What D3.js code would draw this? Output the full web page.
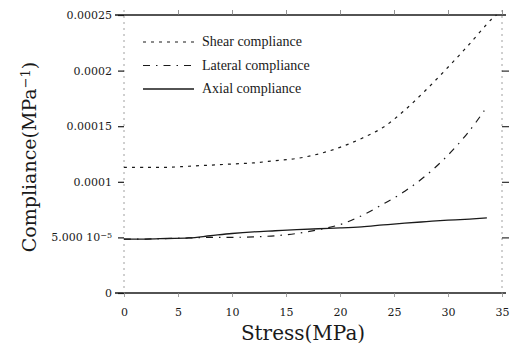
<!DOCTYPE html>
<html>
<head>
<meta charset="utf-8">
<script src="https://cdn.jsdelivr.net/npm/d3@7"></script>
<style>
  body { margin: 0; background: #fff; }
  svg { display: block; }
</style>
</head>
<body>
<div id="app"></div>
<script>
// stress (MPa) vs compliance (1/MPa)
const shearX = [0, 2, 4, 6, 8, 10, 12, 14, 16, 18, 20, 22, 24, 26, 28, 30, 32, 34, 34.5];
const shearY = [1.13e-4, 1.13e-4, 1.13e-4, 1.14e-4, 1.15e-4, 1.16e-4, 1.17e-4, 1.19e-4, 1.21e-4, 1.25e-4,
                1.31e-4, 1.39e-4, 1.49e-4, 1.645e-4, 1.83e-4, 2.03e-4, 2.24e-4, 2.46e-4, 2.5e-4];

const lateralX = [0, 2, 4, 6, 8, 10, 12, 14, 16, 18, 20, 22, 24, 26, 28, 30, 32, 33.5];
const lateralY = [4.85e-5, 4.85e-5, 4.9e-5, 4.95e-5, 5.0e-5, 5.0e-5, 5.05e-5, 5.15e-5, 5.35e-5, 5.7e-5,
                  6.15e-5, 6.95e-5, 8.0e-5, 9.15e-5, 1.06e-4, 1.24e-4, 1.46e-4, 1.66e-4];

const axialX = [0, 2, 4, 6, 8, 10, 12, 14, 16, 18, 20, 22, 24, 26, 28, 30, 32, 33.6];
const axialY = [4.85e-5, 4.85e-5, 4.9e-5, 4.95e-5, 5.15e-5, 5.35e-5, 5.5e-5, 5.6e-5, 5.7e-5, 5.78e-5,
                5.85e-5, 5.95e-5, 6.12e-5, 6.28e-5, 6.42e-5, 6.55e-5, 6.65e-5, 6.75e-5];

const xTicks = [0, 5, 10, 15, 20, 25, 30, 35];
const yTicks = [0, 5e-5, 1e-4, 1.5e-4, 2e-4, 2.5e-4];
const yTickLabels = ['0', '5.000 10', '0.0001', '0.00015', '0.0002', '0.00025'];

const seriesNames = ['Shear compliance', 'Lateral compliance', 'Axial compliance'];

const width = 513;
const height = 359;
const ink = '#1a1a1a';
const serif = '"DejaVu Serif", serif';

const svg = d3.select('#app').append('svg')
    .attr('width', width)
    .attr('height', height)
    .style('background', '#fff');

const x = d3.scaleLinear().domain([0, 35]).range([124, 502]);
const y = d3.scaleLinear().domain([0, 2.5e-4]).range([293, 15]);

// frame: solid top and bottom rules, dotted sides
svg.append('line')
    .attr('x1', 115).attr('x2', 506)
    .attr('y1', y(2.5e-4)).attr('y2', y(2.5e-4))
    .attr('stroke', ink).attr('stroke-width', 1.3);
svg.append('line')
    .attr('x1', 115).attr('x2', 506)
    .attr('y1', y(0)).attr('y2', y(0))
    .attr('stroke', ink).attr('stroke-width', 1.3);
[0, 35].forEach(v => {
    svg.append('line')
        .attr('x1', x(v)).attr('x2', x(v))
        .attr('y1', 10).attr('y2', 298)
        .attr('stroke', '#888').attr('stroke-width', 0.8)
        .attr('stroke-dasharray', '2,4');
});

// left axis with labels
const yAxis = svg.append('g')
    .attr('transform', `translate(${x(0)},0)`)
    .call(d3.axisLeft(y).tickValues(yTicks).tickSize(6).tickPadding(6)
        .tickFormat((d, i) => yTickLabels[i]));
yAxis.select('.domain').remove();
yAxis.selectAll('.tick line').attr('stroke', ink).attr('stroke-width', 1.2);
yAxis.selectAll('.tick text')
    .attr('fill', ink)
    .style('font-family', serif)
    .style('font-size', '11px');
// superscript on the 5e-5 label
yAxis.selectAll('.tick text')
    .filter((d, i) => i === 1)
    .append('tspan')
    .attr('dy', '-0.45em')
    .style('font-size', '8px')
    .text('\u22125');

// right axis, ticks only
const yRight = svg.append('g')
    .attr('transform', `translate(${x(35)},0)`)
    .call(d3.axisRight(y).tickValues(yTicks.slice(1, 5)).tickSize(7).tickFormat(''));
yRight.select('.domain').remove();
yRight.selectAll('.tick line').attr('stroke', ink).attr('stroke-width', 1.1);

// top ticks
const xTop = svg.append('g')
    .attr('transform', `translate(0,${y(2.5e-4)})`)
    .call(d3.axisTop(x).tickValues(xTicks.slice(1)).tickSize(5).tickFormat(''));
xTop.select('.domain').remove();
xTop.selectAll('.tick line').attr('stroke', '#777').attr('stroke-width', 0.8);

// bottom axis with labels
const xAxis = svg.append('g')
    .attr('transform', `translate(0,${y(0)})`)
    .call(d3.axisBottom(x).tickValues(xTicks).tickSize(4).tickPadding(11));
xAxis.select('.domain').remove();
xAxis.selectAll('.tick line').attr('stroke', '#888').attr('stroke-width', 0.8);
xAxis.selectAll('.tick text')
    .attr('fill', ink)
    .style('font-family', serif)
    .style('font-size', '11px');

// axis titles
svg.append('text')
    .attr('x', 303)
    .attr('y', 340)
    .attr('text-anchor', 'middle')
    .attr('fill', ink)
    .style('font-family', serif)
    .style('font-size', '20px')
    .text('Stress(MPa)');

const yTitle = svg.append('text')
    .attr('transform', 'translate(36,157) rotate(-90)')
    .attr('text-anchor', 'middle')
    .attr('fill', ink)
    .style('font-family', serif)
    .style('font-size', '19px');
yTitle.append('tspan').text('Compliance(MPa');
yTitle.append('tspan').attr('dy', '-0.45em').style('font-size', '13px').text('\u22121');
yTitle.append('tspan').attr('dy', '0.3em').text(')');

// curves
const line = d3.line()
    .x(d => x(d[0]))
    .y(d => y(d[1]))
    .curve(d3.curveCatmullRom.alpha(0.5));

const series = [
    { name: seriesNames[0], pts: d3.zip(shearX, shearY), dash: '3,5', w: 1.2 },
    { name: seriesNames[1], pts: d3.zip(lateralX, lateralY), dash: '7,6,1.5,6', w: 1.2 },
    { name: seriesNames[2], pts: d3.zip(axialX, axialY), dash: null, w: 1.3 }
];

svg.append('g')
    .selectAll('path')
    .data(series)
    .join('path')
    .attr('d', d => line(d.pts))
    .attr('fill', 'none')
    .attr('stroke', ink)
    .attr('stroke-width', d => d.w)
    .attr('stroke-dasharray', d => d.dash);

// legend
const legend = svg.append('g').attr('transform', 'translate(143,42)');
series.forEach((s, i) => {
    const g = legend.append('g').attr('transform', `translate(0,${i * 23.5})`);
    g.append('line')
        .attr('x1', 0).attr('x2', 51)
        .attr('stroke', ink)
        .attr('stroke-width', s.w)
        .attr('stroke-dasharray', s.dash);
    g.append('text')
        .attr('x', 59)
        .attr('y', 4)
        .attr('fill', ink)
        .style('font-family', '"Liberation Serif", serif')
        .style('font-size', '14px')
        .text(s.name);
});
</script>
</body>
</html>
